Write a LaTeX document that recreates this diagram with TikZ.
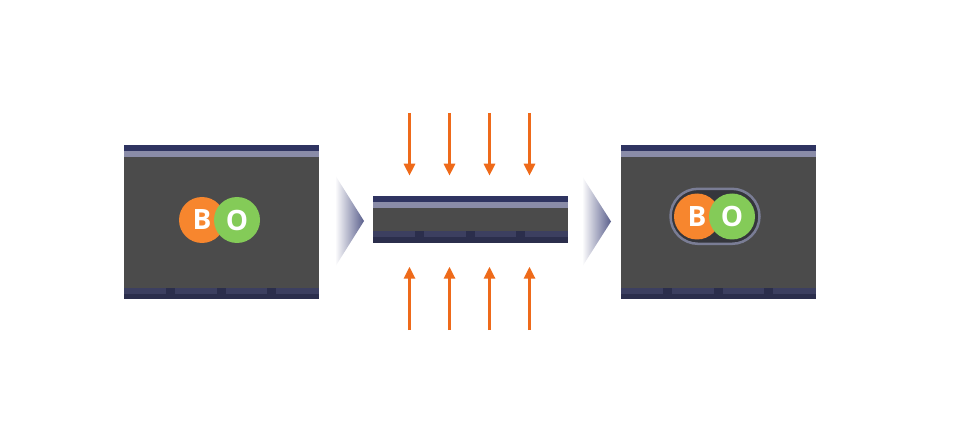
\documentclass[tikz,border=0pt]{standalone}
\usepackage{fontspec}
\usetikzlibrary{arrows.meta,shapes.misc}
\newfontfamily\letterfont{Open Sans}

\definecolor{boxgray}{HTML}{4B4B4B}
\definecolor{topband}{HTML}{2F3461}
\definecolor{lightband}{HTML}{8A8CA8}
\definecolor{stripeband}{HTML}{3C3F60}
\definecolor{bottomband}{HTML}{2B2E4C}
\definecolor{borange}{HTML}{F7862E}
\definecolor{ogreen}{HTML}{84CB58}
\definecolor{pressorange}{HTML}{EE6A1A}
\definecolor{chevblue}{HTML}{5A5F8C}
\definecolor{pillline}{HTML}{7A7D95}
\definecolor{pillfill}{HTML}{35363C}

% #1 left, #2 top, #3 height
\newcommand{\layerbox}[3]{%
	\fill[boxgray]    (#1,#2) rectangle ++(195,#3);
	\fill[topband]    (#1,#2) rectangle ++(195,6);
	\fill[lightband]  (#1,#2+6) rectangle ++(195,6);
	\fill[stripeband] (#1,#2+#3-11.3) rectangle ++(195,6);
	\fill[bottomband] (#1,#2+#3-5.3) rectangle ++(195,5.3);
	\foreach \t in {42,93,143}
	\fill[bottomband] (#1+\t,#2+#3-11.3) rectangle ++(8.5,6);
}

\begin{document}
\begin{tikzpicture}[x=1pt, y=-1pt,
	ball/.style={circle, inner sep=0pt, minimum size=46pt, text=white,
		font=\letterfont\bfseries\fontsize{28}{28}\selectfont},
	press/.style={draw=pressorange, line width=3pt,
		-{Triangle[width=11pt,length=12pt]}}]
	\useasboundingbox (0,0) rectangle (960,438);
	\fill[white] (0,0) rectangle (960,438);

	\layerbox{124}{145}{154}
	\layerbox{373}{196}{46.7}
	\layerbox{621}{145}{154}

	% chevrons
	\shade[left color=white, right color=chevblue] (335,175) -- (364,221) -- (335,267) -- cycle;
	\shade[left color=white, right color=chevblue] (582,176) -- (611,221.5) -- (582,267) -- cycle;

	% before
	\node[ball, fill=borange] (b1) at (202,220) {B};
	\node[ball, fill=ogreen]  (o1) at (237,220) {O};

	% after
	\node[rounded rectangle, draw=pillline, line width=2.5pt, fill=pillfill,
		minimum width=89pt, minimum height=55pt, inner sep=0pt] (pill) at (715,216.3) {};
	\node[ball, fill=borange] (b2) at (697,216.5) {B};
	\node[ball, fill=ogreen]  (o2) at (732,216.5) {O};

	% pressure
	\foreach \i/\x in {1/409.5, 2/449.5, 3/489.5, 4/529.5} {
		\coordinate (top\i) at (\x,113);
		\coordinate (topend\i) at (\x,175.7);
		\coordinate (bot\i) at (\x,330);
		\coordinate (botend\i) at (\x,266.7);
		\draw[press] (top\i) -- (topend\i);
		\draw[press] (bot\i) -- (botend\i);
	}
\end{tikzpicture}
\end{document}
